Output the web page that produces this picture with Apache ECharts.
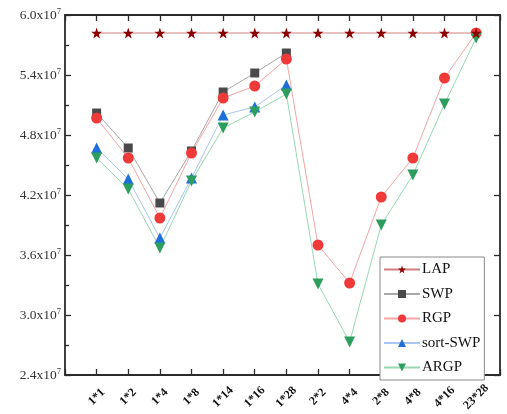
<!DOCTYPE html>
<html><head><meta charset="utf-8">
<script src="https://cdn.jsdelivr.net/npm/echarts@6/dist/echarts.min.js"></script>
<style>html,body{margin:0;padding:0;background:#fff}#c{width:507px;height:414px}</style>
</head><body><div id="c"></div>
<script>
const categories = ['1*1','1*2','1*4','1*8','1*14','1*16','1*28','2*2','4*4','2*8','4*8','4*16','23*28'];
const LAP     = [5.82e7,5.82e7,5.82e7,5.82e7,5.82e7,5.82e7,5.82e7,5.82e7,5.82e7,5.82e7,5.82e7,5.82e7,5.82e7];
const SWP     = [5.02e7,4.67e7,4.12e7,4.64e7,5.23e7,5.42e7,5.62e7,null,null,null,null,null,null];
const RGP     = [4.97e7,4.57e7,3.97e7,4.62e7,5.17e7,5.29e7,5.56e7,3.70e7,3.32e7,4.18e7,4.57e7,5.37e7,5.82e7];
const sortSWP = [4.67e7,4.36e7,3.77e7,4.37e7,5.00e7,5.08e7,5.30e7,null,null,null,null,null,null];
const ARGP    = [4.57e7,4.26e7,3.67e7,4.34e7,4.87e7,5.03e7,5.21e7,3.31e7,2.73e7,3.90e7,4.40e7,5.11e7,5.77e7];
const yTicks = {min:2.4e7, max:6.0e7, interval:0.6e7};

const toPairs = arr => arr.map((v,i)=>[i,v]).filter(p=>p[1]!==null);
const serif = '"Liberation Serif","DejaVu Serif",serif';
const axisCol = '#2b2b2b';

function mk(name, data, symbol, color, lineColor, size, rot, z){
  return {name, type:'line', data:toPairs(data), symbol, symbolSize:size, symbolRotate:rot||0,
    xAxisIndex:0, yAxisIndex:0,
    itemStyle:{color}, lineStyle:{color:lineColor, width:1}, z:z||2, animation:false};
}
function xAx(pos, label){
  return {type:'value', position:pos, min:-1, max:12.755, interval:1, gridIndex:0,
    axisLine:{show:true, onZero:false, lineStyle:{color:axisCol, width:1.8}},
    axisTick:{show:true, inside:true, length:6, lineStyle:{color:axisCol, width:1.3}},
    splitLine:{show:false}, axisLabel:label};
}
function yAx(pos, label, minor){
  return {type:'value', position:pos, min:yTicks.min, max:yTicks.max, interval:yTicks.interval, gridIndex:0,
    axisLine:{show:true, onZero:false, lineStyle:{color:axisCol, width:1.8}},
    axisTick:{show:true, inside:true, length:6, lineStyle:{color:axisCol, width:1.3}},
    minorTick:minor, splitLine:{show:false}, axisLabel:label};
}

const chart = echarts.init(document.getElementById('c'), null, {renderer:'canvas'});
chart.setOption({
  backgroundColor:'#fff',
  grid:{left:65, right:7, top:15, bottom:39, outerBoundsMode:'none', containLabel:false},
  xAxis:[
    xAx('bottom', {show:true, rotate:45, align:'center', verticalAlign:'middle', margin:22,
        fontFamily:serif, fontSize:12, fontWeight:'bold', color:'#111', showMinLabel:true, showMaxLabel:true,
        formatter:v=>{const i=Math.round(v); return (Math.abs(v-i)<1e-6 && categories[i]!==undefined)?categories[i]:'';}}),
    xAx('top', {show:false})
  ],
  yAxis:[
    yAx('left', {margin:4, fontFamily:serif, color:'#333',
        formatter:v=>'{a|'+(v/1e7).toFixed(1)+'x10}{b|7}',
        rich:{a:{fontFamily:serif, fontSize:13.5, color:'#333'}, b:{fontFamily:serif, fontSize:8.5, color:'#333', verticalAlign:'top', padding:[0,0,7,0]}}},
      {show:true, splitNumber:2, length:4, lineStyle:{color:axisCol, width:1.3}}),
    yAx('right', {show:false}, {show:false})
  ],
  legend:{orient:'vertical', left:380, top:257, itemWidth:36, itemHeight:10, itemGap:9.5,
    padding:[5,4,5,3], borderColor:'#888', borderWidth:1, backgroundColor:'#fff',
    textStyle:{fontFamily:serif, fontSize:15, color:'#111', padding:[0,0,0,-3]},
    data:['LAP','SWP','RGP','sort-SWP','ARGP']},
  series:[
    mk('SWP', SWP, 'rect', '#4a4a4a', '#a8a8a8', 9),
    mk('RGP', RGP, 'circle', '#f03a3a', '#f7a5a5', 11),
    mk('sort-SWP', sortSWP, 'triangle', '#1f6fdb', '#a8c6f2', 11),
    mk('ARGP', ARGP, 'triangle', '#2e9e5e', '#98d8b4', 11, 180),
    mk('LAP', LAP, 'path://M50,0 L61.8,35.3 L99,35.3 L68.9,57.5 L80.3,92.7 L50,70.8 L19.7,92.7 L31.1,57.5 L1,35.3 L38.2,35.3 Z', '#8b0000', '#d08080', 11, 0, 3)
  ]
});
</script></body></html>
